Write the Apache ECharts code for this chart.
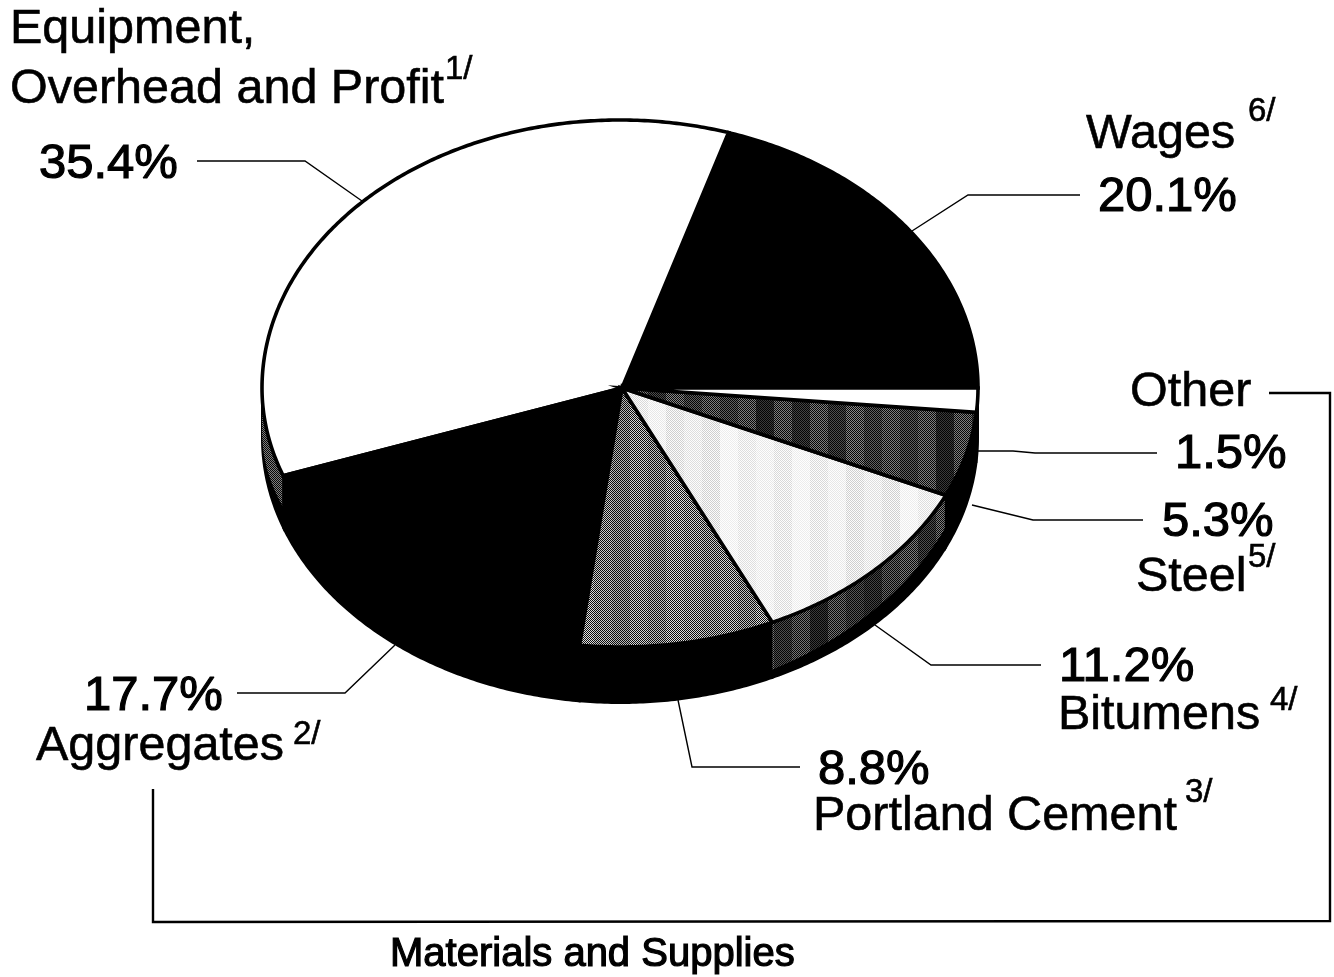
<!DOCTYPE html>
<html><head><meta charset="utf-8">
<style>html,body{margin:0;padding:0;background:#fff}#c{width:1334px;height:977px}</style>
<script src="https://cdn.jsdelivr.net/npm/echarts@6/dist/echarts.min.js"></script>
</head><body><div id="c"></div>
<script>
// ---- data ----
const categories = ["Wages","Equipment, Overhead and Profit","Aggregates","Portland Cement","Bitumens","Steel","Other"];
const values = [20.1,35.4,17.7,8.8,11.2,5.3,1.5];
const footnotes = ["6/","1/","2/","3/","4/","5/",""];
const groupTitle = "Materials and Supplies";

// ---- look ----
const CX=620, CY=388, RX=358, RY_UP=268, RY_DOWN=259, DEPTH=50, RY_OUTER=265;
const FONT='"Liberation Sans", Arial, sans-serif';
const topFill = [0,1,0,[.44,.4,.46,.42,.38,.44,.4,.46,.44,.42],[.96,.93,.95,.92,.96,.92,.95,.9,.93,.9],[.2,.26,.12,.26,.14,.26,.16,.28,.2,.26],1];
const sideFill = [0,[.26,.26],0,0,[.26,.16,.26,.16,.24,.12,.24,.18,.14,.22],0,0];

function dither(levels){
  if(typeof levels==='number') return levels? '#fff':'#000';
  const bw=18, w=bw*levels.length, h=2, cv=document.createElement('canvas');
  cv.width=w; cv.height=h; const g=cv.getContext('2d');
  for(let x=0;x<w;x++) for(let y=0;y<h;y++){
    const l=levels[Math.floor(x/bw)], amp=Math.min(l,1-l)*.9, v=l+((x+y)%2?amp:-amp);
    const c=Math.round(v*255); g.fillStyle=`rgb(${c},${c},${c})`; g.fillRect(x,y,1,1);
  }
  return {image:cv, repeat:'repeat'};
}
const cum=[]; values.reduce((s,v,i)=>(cum[i]=s,s+v),0);
const total=values.reduce((a,b)=>a+b,0);
const ang=p=>p/total*2*Math.PI;
function topPt(a){const s=Math.sin(a);return [CX+RX*Math.cos(a), CY-(s>=0?RY_UP:RY_DOWN)*s];}
function botPt(a,t){ // t: 0 = top face rim, 1 = bottom rim of the side wall
  const s=Math.sin(a), y0=CY-(s>=0?RY_UP:RY_DOWN)*s, y1=CY+DEPTH-(s>=0?RY_UP:RY_OUTER)*s;
  return [CX+RX*Math.cos(a), y0+(y1-y0)*t];
}
function arc(a0,a1,fn){const n=Math.max(2,Math.ceil((a1-a0)/0.01)),o=[];for(let i=0;i<=n;i++)o.push(fn(a0+(a1-a0)*i/n));return o;}
const data=values.map((v,i)=>[i,cum[i],v]);

function renderSide(params,api){
  const i=api.value(0), a0=ang(api.value(1)), a1=ang(api.value(1)+api.value(2));
  const lo=Math.max(a0,Math.PI), hi=Math.min(a1,2*Math.PI);
  if(lo>=hi) return {type:'group',children:[]};
  const upper=arc(lo,hi,a=>botPt(a,0)), lower=arc(lo,hi,a=>botPt(a,1)).reverse();
  const inner=arc(lo,hi,a=>botPt(a,.85-.25*(a-lo)/(hi-lo))).reverse();
  const kids=[{type:'polygon',shape:{points:upper.concat(lower)},style:{fill:'#000',stroke:'#000',lineWidth:2}}];
  if(sideFill[i]) kids.push({type:'polygon',shape:{points:upper.concat(inner)},style:{fill:dither(sideFill[i])}});
  return {type:'group',children:kids};
}
function renderTop(params,api){
  const i=api.value(0), a0=ang(api.value(1)), a1=ang(api.value(1)+api.value(2));
  return {type:'polygon',shape:{points:[[CX+2,CY]].concat(arc(a0,a1,topPt))},
    style:{fill:dither(topFill[i]),stroke:'#000',lineWidth:3.6,lineJoin:'miter'}};
}

// ---- annotation layout: [text, x, baseline, size, emphasis] ----
const pct=i=>values[i].toFixed(1)+'%';
const texts=[
 ['Equipment,',10,45,48.5,0],['Overhead and Profit',10,105,48.5,0],[footnotes[1],445,80,33,0],[pct(1),39,180,49,1],
 [categories[0],1086,150,48.5,0],[footnotes[0],1248,122,33,0],[pct(0),1098,213,49,1],
 [categories[6],1130,408,48.5,0],[pct(6),1175,470,49,1],
 [pct(5),1162,538,49,1],[categories[5],1136,593,48.5,0],[footnotes[5],1248,568,33,0],
 [pct(4),1059,683,49,1],[categories[4],1058,731,48.5,0],[footnotes[4],1270,711,33,0],
 [pct(3),818,786,49,1],[categories[3],813,832,48.5,0],[footnotes[3],1185,803,33,0],
 [pct(2),84,712,49,1],[categories[2],36,762,48.5,0],[footnotes[2],293,745,33,0],
 [groupTitle,390,968,40,1]
];
const leaders=[
 [[197,161],[305,161],[362,201]],
 [[1080,195],[968,195],[912,231]],
 [[1157,453],[1035,453],[1013,451],[978,451]],
 [[1143,520],[1033,520],[972,505]],
 [[1041,665],[931,665],[875,625]],
 [[800,767],[692,767],[678,700]],
 [[237,693],[345,693],[395,645]]
];
const bracket=[[1269,393],[1330,393],[1330,921],[153,922],[153,789]];

const graphic=[];
leaders.forEach(p=>graphic.push({type:'polyline',shape:{points:p},style:{stroke:'#000',lineWidth:1.4,fill:null},z:5}));
graphic.push({type:'polyline',shape:{points:bracket},style:{stroke:'#000',lineWidth:2.4,fill:null},z:5});
texts.forEach(([t,x,b,s,e])=>{ if(t) graphic.push({type:'text',x:x,y:b-s*0.315,z:6,style:{
  text:t,font:`${s}px ${FONT}`,fill:'#000',textAlign:'left',textVerticalAlign:'middle',verticalAlign:'middle',
  stroke:'#000',lineWidth:e?1.2:0.6}});});

const chart=echarts.init(document.getElementById('c'),null,{renderer:'canvas'});
chart.setOption({
  animation:false, backgroundColor:'#fff', graphic:graphic,
  series:[
    {type:'custom',coordinateSystem:'none',renderItem:renderSide,data:data,z:1,silent:true},
    {type:'custom',coordinateSystem:'none',renderItem:renderTop,data:data,z:2,silent:true}
  ]
});
</script></body></html>
